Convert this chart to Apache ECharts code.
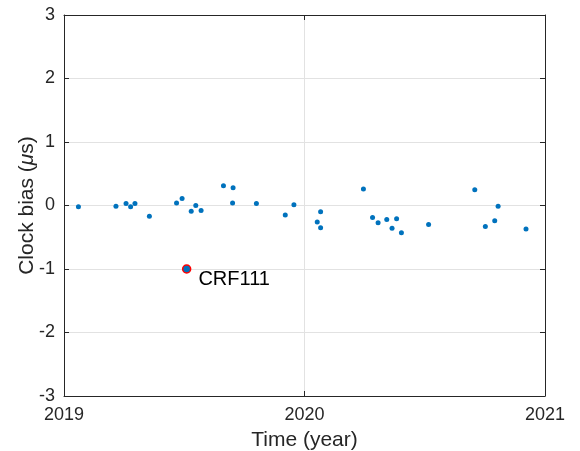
<!DOCTYPE html>
<html>
<head>
<meta charset="utf-8">
<script src="https://cdn.jsdelivr.net/npm/echarts@6/dist/echarts.min.js"></script>
<style>html,body{margin:0;padding:0;background:#fff}#c{width:580px;height:451px}</style>
</head>
<body>
<div id="c"></div>
<script>
// Data
var years = [2019.06, 2019.216, 2019.258, 2019.277, 2019.295, 2019.355, 2019.468, 2019.491, 2019.529, 2019.548,
  2019.570, 2019.663, 2019.703, 2019.701, 2019.800, 2019.920, 2019.956,
  2020.067, 2020.053, 2020.067, 2020.245, 2020.283, 2020.306, 2020.342, 2020.364, 2020.383, 2020.403,
  2020.516, 2020.708, 2020.752, 2020.791, 2020.805, 2020.921];
var bias = [-0.02, -0.01, 0.03, -0.02, 0.03, -0.17, 0.04, 0.11, -0.09, 0.0,
  -0.08, 0.31, 0.28, 0.04, 0.03, -0.15, 0.01,
  -0.10, -0.26, -0.35, 0.26, -0.19, -0.27, -0.22, -0.36, -0.21, -0.43,
  -0.30, 0.25, -0.33, -0.24, -0.01, -0.37];
var outlierYear = [2019.510];
var outlierBias = [-1.0];
var outlierName = 'CRF111';
var xTicks = [2019, 2020, 2021];
var yTicks = [-3, -2, -1, 0, 1, 2, 3];

var font = "'Liberation Sans', Arial, Helvetica, sans-serif";
var fsTick = 18;
var fsName = 21;
var fsNote = 20;
var axisCol = '#262626';
var gridCol = '#e2e2e2';

var mainPts = years.map(function (y, i) { return [y, bias[i]]; });
var outPts = outlierYear.map(function (y, i) { return [y, outlierBias[i]]; });

var chart = echarts.init(document.getElementById('c'), null, {renderer: 'canvas'});
var baseX = {
  type: 'value', min: xTicks[0], max: xTicks[xTicks.length - 1], interval: 1
};
var baseY = {
  type: 'value', min: yTicks[0], max: yTicks[yTicks.length - 1], interval: 1
};
chart.setOption({
  animation: false,
  backgroundColor: '#fff',
  grid: {left: 64, right: 35, top: 15, bottom: 55, containLabel: false, outerBoundsMode: 'none'},
  xAxis: [
    Object.assign({}, baseX, {
      position: 'bottom',
      name: 'Time (year)', nameLocation: 'middle', nameGap: 34, nameMoveOverlap: false,
      nameTextStyle: {fontFamily: font, fontSize: fsName, color: axisCol},
      axisLine: {show: true, onZero: false, lineStyle: {color: axisCol, width: 1}},
      axisTick: {show: true, inside: true, length: 5, lineStyle: {color: axisCol}},
      axisLabel: {show: true, margin: 10, fontFamily: font, fontSize: fsTick, color: axisCol,
        formatter: function (v) { return String(v); }},
      splitLine: {show: true, lineStyle: {color: gridCol, width: 1}}
    }),
    Object.assign({}, baseX, {
      position: 'top',
      axisLine: {show: true, onZero: false, lineStyle: {color: axisCol, width: 1}},
      axisTick: {show: true, inside: true, length: 5, lineStyle: {color: axisCol}},
      axisLabel: {show: false},
      splitLine: {show: false}
    })
  ],
  yAxis: [
    Object.assign({}, baseY, {
      position: 'left',
      name: '{n|Clock bias (}{i|μ}{n|s)}', nameLocation: 'middle', nameGap: 26, nameMoveOverlap: false,
      nameTextStyle: {fontFamily: font, fontSize: fsName, color: axisCol,
        rich: {n: {fontFamily: font, fontSize: fsName, color: axisCol},
               i: {fontFamily: font, fontSize: fsName, color: axisCol, fontStyle: 'italic'}}},
      axisLine: {show: true, onZero: false, lineStyle: {color: axisCol, width: 1}},
      axisTick: {show: true, inside: true, length: 5, lineStyle: {color: axisCol}},
      axisLabel: {show: true, margin: 9, fontFamily: font, fontSize: fsTick, color: axisCol},
      splitLine: {show: true, lineStyle: {color: gridCol, width: 1}}
    }),
    Object.assign({}, baseY, {
      position: 'right',
      axisLine: {show: true, onZero: false, lineStyle: {color: axisCol, width: 1}},
      axisTick: {show: true, inside: true, length: 5, lineStyle: {color: axisCol}},
      axisLabel: {show: false},
      splitLine: {show: false}
    })
  ],
  series: [
    {
      type: 'scatter', xAxisIndex: 0, yAxisIndex: 0,
      data: mainPts, symbol: 'circle', symbolSize: 5,
      itemStyle: {color: '#0072BD', opacity: 1}
    },
    {
      type: 'scatter', xAxisIndex: 0, yAxisIndex: 0,
      data: outPts, symbol: 'circle', symbolSize: 8,
      itemStyle: {color: '#0072BD', borderColor: '#FF0000', borderWidth: 1.5, opacity: 1},
      label: {show: true, position: 'right', distance: 7, offset: [0, 10],
        formatter: outlierName, fontFamily: font, fontSize: fsNote, color: '#000'}
    }
  ]
});
</script>
</body>
</html>
